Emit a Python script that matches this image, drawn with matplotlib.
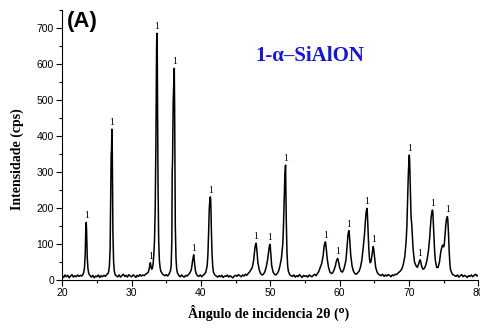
import matplotlib
matplotlib.use("Agg")
import matplotlib.pyplot as plt
from matplotlib.ticker import MultipleLocator

# XRD pattern (2theta in degrees, intensity in cps)
two_theta = [
    20.0, 20.2, 20.4, 20.6, 20.8, 21.0, 21.2, 21.4, 21.6, 21.8, 22.0, 22.2, 22.4, 22.6, 22.8, 23.0,
    23.1, 23.2, 23.3, 23.35, 23.4, 23.45, 23.5, 23.55, 23.6, 23.7, 23.8, 23.9, 24.0,
    24.2, 24.4, 24.6, 24.8, 25.0, 25.2, 25.4, 25.6, 25.8, 26.0, 26.2, 26.4, 26.6,
    26.7, 26.8, 26.9, 27.0, 27.05, 27.1, 27.15, 27.2, 27.25, 27.3, 27.4, 27.5, 27.6, 27.8,
    28.0, 28.2, 28.4, 28.6, 28.8, 29.0, 29.2, 29.4, 29.6, 29.8, 30.0, 30.2, 30.4, 30.6, 30.8, 31.0,
    31.2, 31.4, 31.6, 31.8, 32.0, 32.2, 32.4,
    32.5, 32.6, 32.7, 32.8, 32.9, 33.0, 33.1, 33.2, 33.3, 33.4, 33.5, 33.55, 33.6, 33.65, 33.7,
    33.75, 33.8, 33.9, 34.0, 34.1, 34.2, 34.4, 34.6, 34.8,
    35.0, 35.2, 35.4, 35.6, 35.7, 35.8, 35.85, 35.9, 35.95, 36.0, 36.05, 36.1, 36.15, 36.2, 36.25,
    36.3, 36.4, 36.5, 36.6, 36.8,
    37.0, 37.2, 37.4, 37.6, 37.8, 38.0, 38.2, 38.4, 38.6, 38.7, 38.8, 38.9, 38.95, 39.0, 39.1,
    39.2, 39.3, 39.5,
    39.7, 39.9, 40.1, 40.3, 40.5, 40.7, 40.9, 41.0, 41.1, 41.2, 41.3, 41.35, 41.4, 41.45, 41.5,
    41.6, 41.7, 41.8, 42.0, 42.2,
    42.4, 42.6, 42.8, 43.0, 43.2, 43.4, 43.6, 43.8, 44.0, 44.2, 44.4, 44.6, 44.8, 45.0, 45.2,
    45.4, 45.6, 45.8, 46.0, 46.2, 46.4, 46.6, 46.8, 47.0, 47.2,
    47.4, 47.6, 47.7, 47.8, 47.9, 47.95, 48.0, 48.1, 48.2, 48.4, 48.6, 48.8, 49.0, 49.2, 49.4,
    49.6, 49.7, 49.8, 49.9, 49.95, 50.0, 50.1, 50.2, 50.4, 50.6, 50.8, 51.0, 51.2, 51.4,
    51.6, 51.8, 51.9, 52.0, 52.1, 52.15, 52.2, 52.25, 52.3, 52.4, 52.5, 52.6, 52.8, 53.0,
    53.2, 53.4, 53.6, 53.8, 54.0, 54.2, 54.4, 54.6, 54.8, 55.0, 55.2, 55.4, 55.6, 55.8, 56.0,
    56.2, 56.4, 56.6, 56.8, 57.0, 57.2,
    57.4, 57.6, 57.7, 57.8, 57.9, 57.95, 58.0, 58.1, 58.2, 58.4, 58.6, 58.8, 59.0, 59.2, 59.4,
    59.5, 59.6, 59.7, 59.75, 59.8, 59.9, 60.0, 60.2, 60.4, 60.6, 60.8,
    60.9, 61.0, 61.1, 61.2, 61.3, 61.35, 61.4, 61.5, 61.6, 61.8, 62.0, 62.2, 62.4, 62.6, 62.8,
    63.0, 63.2, 63.4,
    63.6, 63.7, 63.8, 63.9, 63.95, 64.0, 64.1, 64.2, 64.3, 64.4, 64.5, 64.6, 64.7, 64.8, 64.85,
    64.9, 65.0, 65.1, 65.2, 65.4, 65.6, 65.8,
    66.0, 66.2, 66.4, 66.6, 66.8, 67.0, 67.2, 67.4, 67.6, 67.8, 68.0, 68.2, 68.4, 68.6, 68.8,
    69.0, 69.2, 69.4, 69.6, 69.7, 69.8, 69.9, 70.0, 70.05, 70.1, 70.2, 70.3, 70.4, 70.5, 70.6,
    70.8, 71.0,
    71.2, 71.4, 71.5, 71.6, 71.65, 71.7, 71.8, 72.0, 72.2, 72.4, 72.6, 72.8, 73.0, 73.1, 73.2,
    73.3, 73.35, 73.4, 73.45, 73.5, 73.6, 73.7, 73.8, 74.0, 74.2, 74.4, 74.6, 74.8, 74.9, 75.0,
    75.1, 75.2, 75.3, 75.4, 75.5, 75.55, 75.6, 75.7, 75.8, 75.9, 76.0, 76.2, 76.4, 76.6,
    76.8, 77.0, 77.2, 77.4, 77.6, 77.8, 78.0, 78.2, 78.4, 78.6, 78.8, 79.0, 79.2, 79.4, 79.6,
    79.8, 80.0,
]
counts = [
    12, 7, 14, 9, 13, 6, 11, 15, 8, 12, 9, 14, 10, 13, 11, 16,
    22, 35, 70, 115, 150, 160, 140, 100, 62, 32, 20, 15, 12,
    8, 13, 6, 11, 9, 14, 7, 12, 9, 13, 10, 15, 18,
    25, 40, 90, 260, 350, 360, 419, 380, 260, 130, 50, 25, 16, 11,
    9, 14, 8, 12, 16, 10, 13, 8, 15, 11, 9, 14, 12, 7, 13, 10,
    15, 11, 14, 12, 16, 18, 22,
    28, 38, 48, 36, 30, 34, 45, 70, 110, 200, 380, 540, 650, 685, 620,
    450, 280, 110, 55, 35, 25, 18, 14, 12,
    15, 11, 17, 25, 40, 110, 300, 330, 420, 500, 530, 560, 588, 480, 300,
    150, 60, 30, 20, 13,
    9, 14, 10, 8, 13, 11, 15, 20, 28, 40, 55, 66, 70, 62, 42,
    26, 18, 12,
    10, 14, 9, 13, 16, 22, 40, 70, 130, 200, 225, 231, 222, 190, 140,
    70, 38, 22, 14, 11,
    8, 12, 9, 13, 7, 11, 10, 14, 8, 12, 9, 6, 11, 13, 10,
    15, 12, 9, 14, 11, 16, 13, 18, 22, 28,
    35, 55, 75, 92, 100, 102, 95, 75, 50, 28, 18, 14, 16, 22, 35,
    55, 70, 85, 97, 99, 92, 65, 40, 22, 16, 14, 18, 25, 40,
    60, 100, 150, 220, 290, 305, 319, 250, 170, 80, 40, 25, 15, 12,
    10, 14, 8, 12, 9, 15, 11, 7, 13, 10, 12, 8, 14, 11, 9,
    13, 16, 12, 18, 24, 35,
    45, 65, 82, 98, 104, 106, 100, 82, 60, 35, 22, 18, 20, 28, 40,
    50, 56, 60, 58, 55, 45, 35, 24, 22, 30, 45,
    55, 75, 100, 125, 135, 137, 128, 100, 70, 38, 24, 18, 16, 20, 24,
    35, 55, 90,
    130, 160, 185, 197, 199, 185, 140, 90, 60, 48, 50, 60, 75, 88, 93,
    88, 70, 50, 35, 22, 16, 14,
    12, 16, 10, 14, 11, 15, 13, 9, 14, 12, 16, 15, 19, 22, 26,
    32, 45, 65, 110, 150, 220, 290, 335, 347, 330, 250, 175, 155, 120, 85,
    50, 40,
    35, 45, 52, 56, 55, 50, 40, 30, 32, 40, 55, 80, 120, 150, 175,
    188, 193, 194, 186, 165, 120, 80, 55, 35, 35, 50, 80, 95, 97, 92,
    100, 125, 150, 168, 175, 176, 168, 130, 80, 45, 28, 18, 14, 12,
    10, 14, 8, 12, 15, 9, 13, 11, 7, 12, 10, 14, 9, 13, 16,
    11, 14,
]

# peaks marked "1" (alpha-SiAlON)
label_pos = [23.45, 27.15, 32.7, 33.65, 36.15, 38.95, 41.35, 47.95, 49.95, 52.2,
             57.95, 59.7, 61.35, 63.95, 64.85, 70.05, 71.6, 73.4, 75.55]
label_text = "1"

fig = plt.figure(figsize=(4.8, 3.34), dpi=100)
ax = fig.add_axes([62.3 / 480, 1 - 280 / 334, 416 / 480, 270 / 334])

ax.plot(two_theta, counts, color="black", lw=1.1)

# put a "1" above each marked peak
for p in label_pos:
    near = [(c, t) for t, c in zip(two_theta, counts) if abs(t - p) <= 0.12]
    top, at = max(near)
    ax.annotate(label_text, (at, top), xytext=(0, 3), textcoords="offset points",
                ha="center", va="baseline", fontsize=7, family="Liberation Serif")

ax.set_xlim(20, 80)
ax.set_ylim(0, 750)
ax.xaxis.set_major_locator(MultipleLocator(10))
ax.xaxis.set_minor_locator(MultipleLocator(5))
ax.yaxis.set_major_locator(MultipleLocator(100))
ax.yaxis.set_minor_locator(MultipleLocator(50))

for s in ["top", "right"]:
    ax.spines[s].set_visible(False)
for s in ["left", "bottom"]:
    ax.spines[s].set_linewidth(0.8)

ax.tick_params(which="major", direction="out", length=4, width=0.8, pad=2,
               labelsize=7.5)
ax.tick_params(which="minor", direction="out", length=2, width=0.8)
for lab in ax.get_xticklabels() + ax.get_yticklabels():
    lab.set_family("Liberation Sans")

ax.set_ylabel("Intensidade (cps)", fontsize=10, fontweight="bold", family="Liberation Serif")
ax.yaxis.set_label_coords(-0.093, 0.446)
ax.set_xlabel("Ângulo de incidencia 2θ (⁰)", fontsize=10,
              fontweight="bold", family=["Liberation Serif", "DejaVu Sans"])
ax.xaxis.set_label_coords(0.496, -0.093)
ax.xaxis.label.set_va("top")

ax.text(0.011, 0.998, "(A)", transform=ax.transAxes, ha="left", va="top",
        fontsize=16, fontweight="bold", family="Liberation Sans")
ax.text(0.463, 0.812, "1-α–SiAlON", transform=ax.transAxes, ha="left", va="baseline",
        fontsize=15, fontweight="bold", color="#1414e6", family="Liberation Serif")

fig.savefig("out.png", dpi=100)
